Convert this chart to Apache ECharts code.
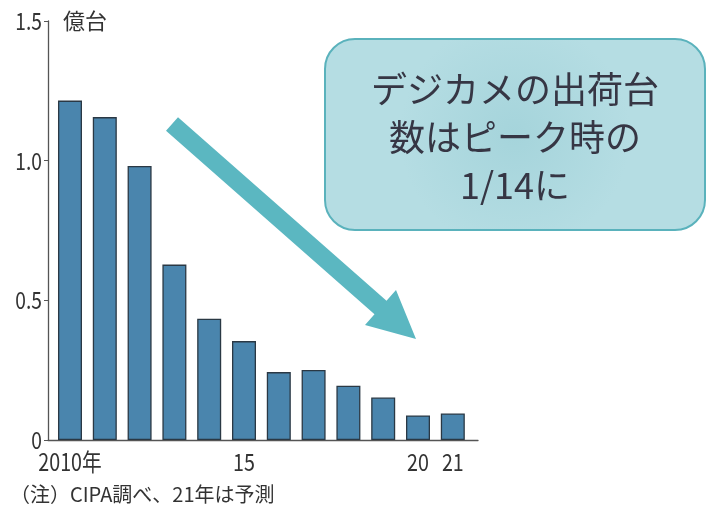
<!DOCTYPE html>
<html><head><meta charset="utf-8">
<script src="https://cdn.jsdelivr.net/npm/echarts@6/dist/echarts.min.js"></script>
<style>html,body{margin:0;padding:0;background:#fff}#c{width:706px;height:512px}</style>
</head><body><div id="c"></div>
<script>
const years = [2010,2011,2012,2013,2014,2015,2016,2017,2018,2019,2020,2021];
const shipments = [1.215,1.156,0.981,0.628,0.434,0.354,0.243,0.251,0.194,0.152,0.088,0.095];
const xLabelYears = [2010,2015,2020,2021];
const xLabelText = ['2010年','15','20','21'];
const yTicks = [0,0.5,1.0,1.5];
const yLabelText = ['0','0.5','1.0','1.5'];
const unitLabel = '億台';
const noteText = '（注）CIPA調べ、21年は予測';
const calloutLines = ['デジカメの出荷台','数はピーク時の','1/14に'];

const jpFont = '"Noto Sans CJK JP",sans-serif';

const chart = echarts.init(document.getElementById('c'));
chart.setOption({
  backgroundColor:'#fff',
  animation:false,
  grid:{left:48,right:228,top:21,bottom:72,containLabel:false},
  xAxis:{type:'value',min:2009.368,max:2021.724,
    axisLine:{show:true,lineStyle:{color:'#555',width:1.3}},
    axisTick:{show:false},splitLine:{show:false},axisLabel:{show:false}},
  yAxis:{type:'value',min:0,max:1.5,interval:0.5,
    axisLine:{show:true,lineStyle:{color:'#555',width:1.3}},
    axisTick:{show:true,length:4,lineStyle:{color:'#555'}},
    splitLine:{show:false},axisLabel:{show:false}},
  series:[{type:'bar',barWidth:24,
    data:years.map((y,i)=>[y,shipments[i]]),
    itemStyle:{color:'#4a85ad',borderColor:'#2a3844',borderWidth:1.3}}]
});

// axis labels drawn as condensed text, placed through the chart's own scales
const axisX = chart.convertToPixel({yAxisIndex:0},0) !== undefined ? chart.convertToPixel({gridIndex:0},[2009.368,0])[0] : 48;
const baseY = chart.convertToPixel({yAxisIndex:0},0);
const labels = [];
yTicks.forEach((v,i)=>{
  labels.push({type:'text',x:axisX-6,y:chart.convertToPixel({yAxisIndex:0},v),scaleX:0.8,
    style:{text:yLabelText[i],fontSize:24,fontFamily:jpFont,fill:'#333',align:'right',verticalAlign:'middle'}});
});
xLabelYears.forEach((yr,i)=>{
  labels.push({type:'text',x:chart.convertToPixel({xAxisIndex:0},yr),y:baseY+22,scaleX:0.82,
    style:{text:xLabelText[i],fontSize:24,fontFamily:jpFont,fill:'#333',align:'center',verticalAlign:'middle'}});
});

chart.setOption({graphic:[
  ...labels,
  {type:'text',left:63,top:10,style:{text:unitLabel,fontSize:22,fontFamily:jpFont,fill:'#333'}},
  {type:'text',x:10,y:494,style:{text:noteText,fontSize:20,fontFamily:jpFont,fill:'#333',verticalAlign:'middle'}},
  {type:'rect',shape:{x:325,y:39,width:380,height:191,r:30},
    style:{fill:{type:'radial',x:0.5,y:0.5,r:0.6,colorStops:[{offset:0,color:'#a5d4db'},{offset:1,color:'#b5dde3'}]},
    stroke:'#5ab2bc',lineWidth:2}},
  {type:'polygon',shape:{points:[[178,117.2],[386.5,300.7],[396,290],[416,339],[365,325],[374.5,314.3],[166,130.8]]},
    style:{fill:'#5bb7c1'}},
  ...calloutLines.map((t,i)=>({type:'text',x:515,y:89+i*48,
    style:{text:t,fontSize:36,fontFamily:jpFont,fill:'#363644',align:'center',verticalAlign:'middle'}}))
]});
</script></body></html>
